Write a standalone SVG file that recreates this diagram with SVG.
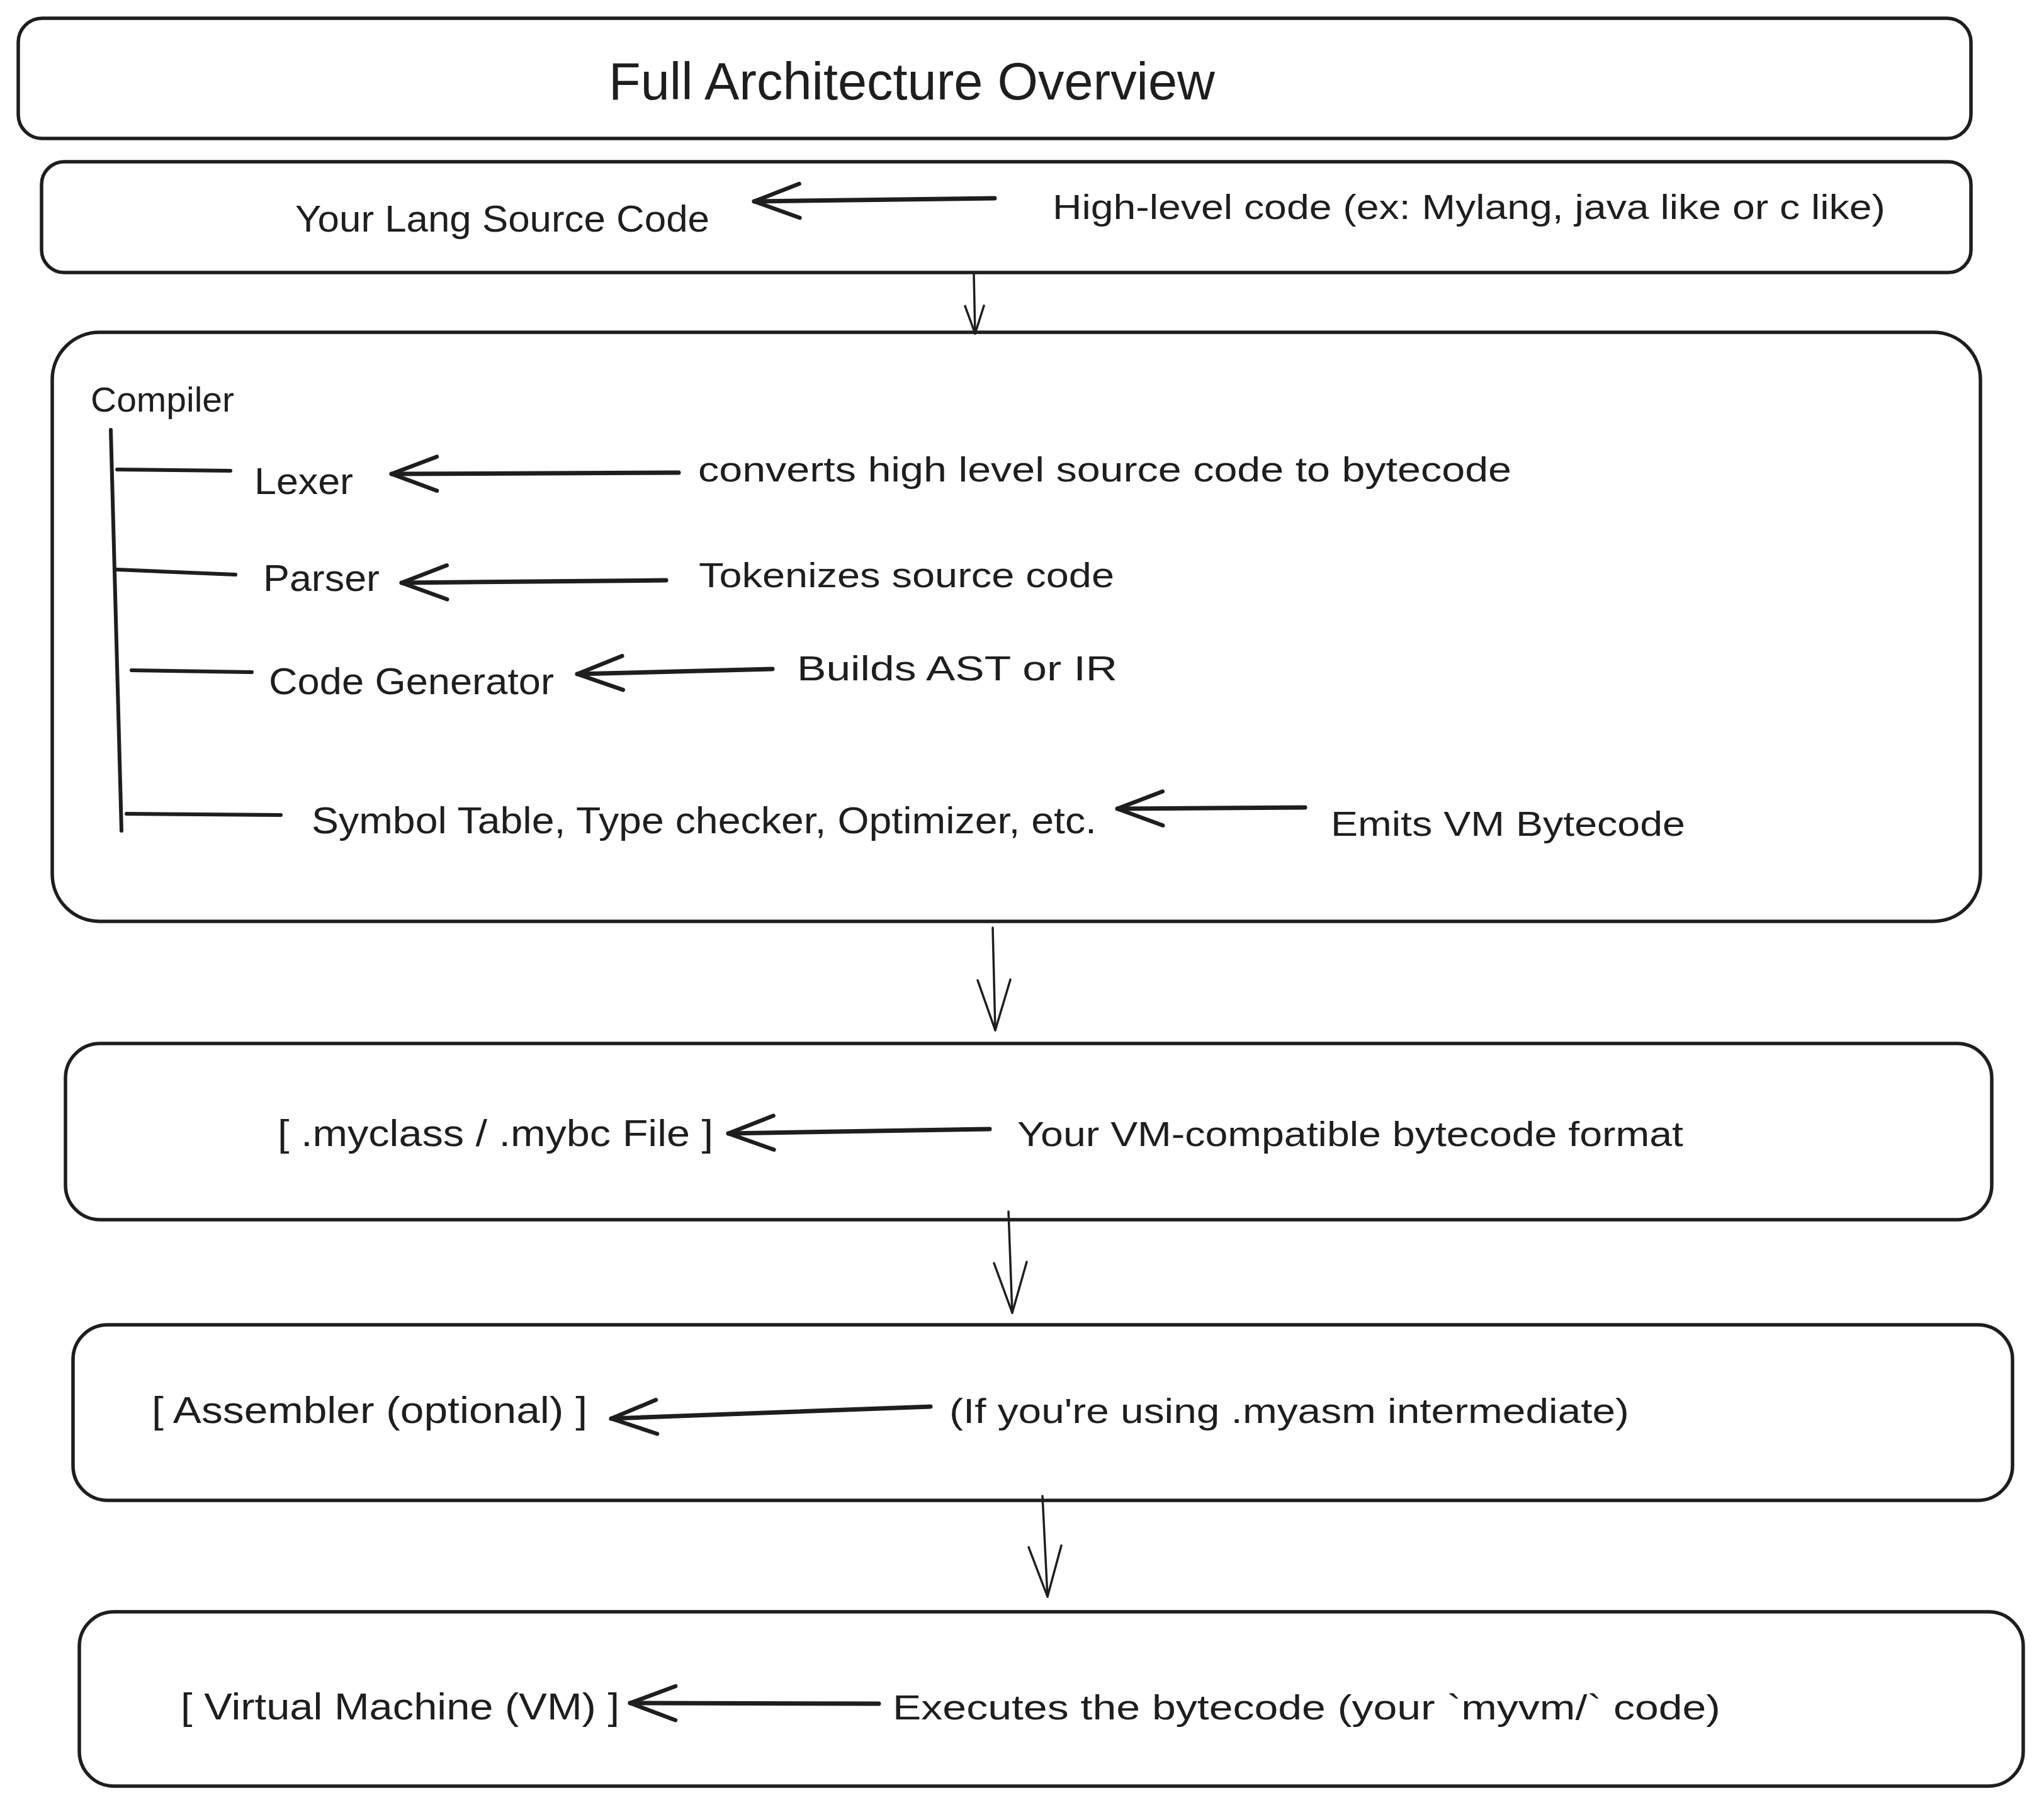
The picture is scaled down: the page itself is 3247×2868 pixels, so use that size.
<svg xmlns="http://www.w3.org/2000/svg" width="3247" height="2868" viewBox="0 0 3247 2868">
<style>
.bg{fill:#ffffff}
.box{fill:#ffffff;stroke:#1e1e1e;stroke-width:5.5}
.t{font-family:"Liberation Sans",Arial,sans-serif;fill:#1e1e1e}
.ttl{font-size:84px}
.md{font-size:60px}
.sm{font-size:56px}
.conn{fill:none;stroke:#1e1e1e;stroke-linecap:round;stroke-linejoin:round}
.thick{stroke-width:7}
.thin{stroke-width:3.5}
.tree{stroke-width:6}
</style>
<defs>
<marker id="headThick" markerUnits="userSpaceOnUse" viewBox="-90 -40 100 80" markerWidth="100" markerHeight="80" refX="0" refY="0" orient="auto" overflow="visible">
<path d="M -72 -27 L 0 0 L -72 27" fill="none" stroke="#1e1e1e" stroke-width="6.5" stroke-linecap="round" stroke-linejoin="round"/>
</marker>
<marker id="headThin" markerUnits="userSpaceOnUse" viewBox="-90 -40 100 80" markerWidth="100" markerHeight="80" refX="0" refY="0" orient="auto" overflow="visible">
<path d="M -80 -26 L 0 0 L -80 26" fill="none" stroke="#1e1e1e" stroke-width="3.5" stroke-linecap="round" stroke-linejoin="round"/>
</marker>
<marker id="headSmall" markerUnits="userSpaceOnUse" viewBox="-90 -40 100 80" markerWidth="100" markerHeight="80" refX="0" refY="0" orient="auto" overflow="visible">
<path d="M -44 -15 L 0 0 L -44 15" fill="none" stroke="#1e1e1e" stroke-width="3.5" stroke-linecap="round" stroke-linejoin="round"/>
</marker>
</defs>
<rect class="bg" x="0" y="0" width="3247" height="2868"/>

<g id="node-title">
<rect class="box" x="29" y="29" width="3102" height="191" rx="38"/>
<text class="t ttl" x="967" y="158" textLength="963" lengthAdjust="spacingAndGlyphs">Full Architecture Overview</text>
</g>

<g id="node-source">
<rect class="box" x="66" y="257" width="3065" height="176" rx="36"/>
<text class="t md" x="469" y="368" textLength="658" lengthAdjust="spacingAndGlyphs">Your Lang Source Code</text>
<text class="t sm" x="1672" y="348" textLength="1323" lengthAdjust="spacingAndGlyphs">High-level code (ex: Mylang, java like or c like)</text>
</g>

<g id="node-compiler">
<rect class="box" x="83" y="528" width="3063" height="936" rx="75"/>
<text class="t" style="font-size:55px" x="144" y="654" textLength="228" lengthAdjust="spacingAndGlyphs">Compiler</text>
<g id="compiler-lexer">
<text class="t md" x="404" y="785" textLength="157" lengthAdjust="spacingAndGlyphs">Lexer</text>
<text class="t sm" x="1109" y="765" textLength="1292" lengthAdjust="spacingAndGlyphs">converts high level source code to bytecode</text>
</g>
<g id="compiler-parser">
<text class="t md" x="418" y="939" textLength="185" lengthAdjust="spacingAndGlyphs">Parser</text>
<text class="t sm" x="1110" y="933" textLength="660" lengthAdjust="spacingAndGlyphs">Tokenizes source code</text>
</g>
<g id="compiler-codegen">
<text class="t md" x="427" y="1103" textLength="453" lengthAdjust="spacingAndGlyphs">Code Generator</text>
<text class="t sm" x="1266" y="1081" textLength="509" lengthAdjust="spacingAndGlyphs">Builds AST or IR</text>
</g>
<g id="compiler-symbol">
<text class="t md" x="495" y="1324" textLength="1247" lengthAdjust="spacingAndGlyphs">Symbol Table, Type checker, Optimizer, etc.</text>
<text class="t sm" x="2114" y="1328" textLength="563" lengthAdjust="spacingAndGlyphs">Emits VM Bytecode</text>
</g>
</g>

<g id="node-file">
<rect class="box" x="104" y="1658" width="3060" height="280" rx="55"/>
<text class="t md" x="441" y="1821" textLength="692" lengthAdjust="spacingAndGlyphs">[ .myclass / .mybc File ]</text>
<text class="t sm" x="1616" y="1821" textLength="1058" lengthAdjust="spacingAndGlyphs">Your VM-compatible bytecode format</text>
</g>

<g id="node-assembler">
<rect class="box" x="116" y="2105" width="3081" height="279" rx="55"/>
<text class="t md" x="241" y="2261" textLength="692" lengthAdjust="spacingAndGlyphs">[ Assembler (optional) ]</text>
<text class="t sm" x="1508" y="2261" textLength="1080" lengthAdjust="spacingAndGlyphs">(If you're using .myasm intermediate)</text>
</g>

<g id="node-vm">
<rect class="box" x="126" y="2561" width="3088" height="277" rx="55"/>
<text class="t md" x="287" y="2732" textLength="697" lengthAdjust="spacingAndGlyphs">[ Virtual Machine (VM) ]</text>
<text class="t sm" x="1418" y="2732" textLength="1315" lengthAdjust="spacingAndGlyphs">Executes the bytecode (your `myvm/` code)</text>
</g>

<g id="connectors">
<path class="conn thick" d="M 1580 315 L 1198 320" marker-end="url(#headThick)"/>
<path class="conn thin" d="M 1547 436 L 1549 530" marker-end="url(#headSmall)"/>
<path class="conn tree" d="M 176 683 L 193 1320"/>
<path class="conn tree" d="M 186 746 L 366 748"/>
<path class="conn tree" d="M 186 905 L 374 913"/>
<path class="conn tree" d="M 209 1065 L 400 1068"/>
<path class="conn tree" d="M 201 1293 L 446 1295"/>
<path class="conn thick" d="M 1078 751 L 622 753" marker-end="url(#headThick)"/>
<path class="conn thick" d="M 1058 922 L 638 926" marker-end="url(#headThick)"/>
<path class="conn thick" d="M 1227 1063 L 917 1071" marker-end="url(#headThick)"/>
<path class="conn thick" d="M 2073 1283 L 1775 1285" marker-end="url(#headThick)"/>
<path class="conn thin" d="M 1577 1474 L 1581 1637" marker-end="url(#headThin)"/>
<path class="conn thick" d="M 1572 1794 L 1157 1801" marker-end="url(#headThick)"/>
<path class="conn thin" d="M 1602 1925 L 1608 2086" marker-end="url(#headThin)"/>
<path class="conn thick" d="M 1478 2235 L 971 2254" marker-end="url(#headThick)"/>
<path class="conn thin" d="M 1656 2377 L 1664 2537" marker-end="url(#headThin)"/>
<path class="conn thick" d="M 1396 2707 L 1001 2706" marker-end="url(#headThick)"/>
</g>
</svg>
